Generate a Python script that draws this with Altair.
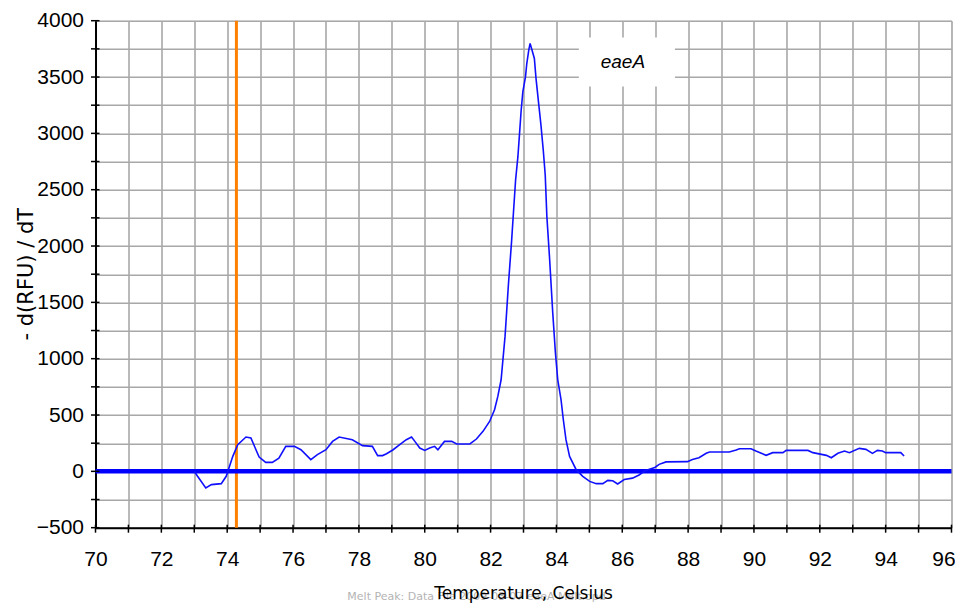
import altair as alt
import pandas as pd

# ---- melt-peak curve (temperature in Celsius, -d(RFU)/dT) ----
temp = [73.0, 73.1, 73.35, 73.52, 73.82, 73.97, 74.17, 74.32, 74.57, 74.72,
        74.97, 75.17, 75.37, 75.57, 75.78, 76.04, 76.24, 76.54, 76.74, 77.0,
        77.2, 77.4, 77.8, 78.11, 78.41, 78.57, 78.72, 78.84, 79.04, 79.24,
        79.44, 79.6, 79.7, 79.85, 80.0, 80.15, 80.3, 80.4, 80.6, 80.82,
        80.97, 81.37, 81.57, 81.77, 81.97, 82.12, 82.22, 82.32, 82.44, 82.54,
        82.64, 82.7, 82.76, 82.83, 82.88, 82.93, 82.98, 83.06, 83.1, 83.16,
        83.2, 83.26, 83.33, 83.38, 83.46, 83.53, 83.6, 83.66, 83.71, 83.79,
        83.89, 83.97, 84.04, 84.14, 84.21, 84.29, 84.4, 84.6, 84.8, 85.01,
        85.21, 85.41, 85.56, 85.71, 85.86, 86.06, 86.31, 86.51, 86.69, 86.99,
        87.12, 87.33, 87.98, 88.13, 88.33, 88.55, 88.65, 89.25, 89.46, 89.56,
        89.91, 90.06, 90.37, 90.57, 90.88, 90.98, 91.64, 91.79, 92.2, 92.35,
        92.55, 92.75, 92.9, 93.2, 93.4, 93.6, 93.75, 93.9, 94.0, 94.46, 94.56]
rfu = [0, -44, -147, -118, -109, -44, 133, 237, 305, 296,
       127, 80, 80, 118, 222, 222, 192, 104, 148, 192,
       266, 305, 281, 228, 222, 140, 140, 156, 192, 237,
       281, 305, 266, 207, 186, 207, 222, 192, 266, 266,
       243, 243, 287, 355, 443, 547, 665, 813, 1200, 1650,
       2050, 2320, 2586, 2793, 3000, 3207, 3369, 3502, 3620, 3738,
       3798, 3738, 3665, 3488, 3266, 3074, 2852, 2630, 2261, 1900,
       1400, 1050, 813, 636, 458, 281, 133, 15, -44, -89,
       -109, -109, -80, -84, -112, -72, -60, -32, 5, 35,
       62, 84, 86, 106, 121, 160, 172, 172, 189, 201,
       201, 180, 142, 166, 166, 186, 186, 166, 142, 121,
       160, 180, 166, 204, 195, 160, 186, 180, 166, 166, 136]

x_ticks = [70, 71, 72, 73, 74, 75, 76, 77, 78, 79, 80, 81, 82, 83, 84, 85, 86,
           87, 88, 89, 90, 91, 92, 93, 94, 95, 96]
y_ticks = [-500, -250, 0, 250, 500, 750, 1000, 1250, 1500, 1750, 2000, 2250,
           2500, 2750, 3000, 3250, 3500, 3750, 4000]

threshold_temp = [74.28]
baseline_value = [0]

legend_label = ["eaeA"]
legend_box_x = [84.68]
legend_box_x2 = [87.6]
legend_box_y = [3415]
legend_box_y2 = [3850]
legend_text_x = [86.02]
legend_text_y = [3637]

x_title = "Temperature, Celsius"
y_title = "- d(RFU) / dT"
footer_text = "Melt Peak: Data File 2009-03-07 eaeA Melt.opd"

# ---- styling ----
W, H = 856, 507
LABEL_FONT = "Liberation Sans, sans-serif"
TITLE_FONT = "DejaVu Sans"
GRID = "#A8A8A8"

curve_df = pd.DataFrame({"temp": temp, "rfu": rfu})
xt_df = pd.DataFrame({"v": x_ticks})
yt_df = pd.DataFrame({"v": y_ticks})
thr_df = pd.DataFrame({"t": threshold_temp})
base_df = pd.DataFrame({"b": baseline_value})
leg_df = pd.DataFrame({"x": legend_box_x, "x2": legend_box_x2,
                       "y": legend_box_y, "y2": legend_box_y2,
                       "tx": legend_text_x, "ty": legend_text_y,
                       "label": legend_label})

xscale = alt.Scale(domain=[70, 96], nice=False, zero=False)
yscale = alt.Scale(domain=[-500, 4000], nice=False)

x_axis = alt.Axis(values=x_ticks, format="d", title=None, ticks=False,
                  labelExpr="datum.value % 2 == 0 ? datum.label : ''",
                  labelFont=LABEL_FONT, labelFontSize=21, labelColor="black",
                  labelPadding=21, labelFlush=False, labelOverlap=False,
                  labelOffset={"condition": {"test": "datum.value == 96",
                                             "value": -8}, "value": 0},
                  domainColor="black", domainWidth=2,
                  grid=True, gridColor=GRID, gridWidth=1.6, gridOpacity=1)
y_axis = alt.Axis(values=y_ticks, format="d", title=None, ticks=False,
                  labelExpr="datum.value % 500 == 0 ? datum.label : ''",
                  labelFont=LABEL_FONT, labelFontSize=21, labelColor="black",
                  labelPadding=12, labelOverlap=False, labelFlush=False,
                  domainColor="black", domainWidth=2,
                  grid=True, gridColor=GRID, gridWidth=1.6, gridOpacity=1)

legend_box = alt.Chart(leg_df).mark_rect(color="white", opacity=1).encode(
    x=alt.X("x:Q", scale=xscale, axis=x_axis),
    x2="x2:Q",
    y=alt.Y("y:Q", scale=yscale, axis=y_axis),
    y2="y2:Q",
)
legend_txt = alt.Chart(leg_df).mark_text(
    font="Liberation Sans", fontStyle="italic", fontSize=19, color="black",
    align="center", baseline="middle").encode(
    x=alt.X("tx:Q", scale=xscale, axis=x_axis),
    y=alt.Y("ty:Q", scale=yscale, axis=y_axis),
    text="label:N",
)

thr = alt.Chart(thr_df).mark_rule(color="#FF8000", strokeWidth=3).encode(
    x=alt.X("t:Q", scale=xscale, axis=x_axis))

base = alt.Chart(base_df).mark_rule(color="#0000FF", strokeWidth=4.5).encode(
    y=alt.Y("b:Q", scale=yscale, axis=y_axis))

curve = alt.Chart(curve_df).mark_line(color="#1010FF", strokeWidth=1.6).encode(
    x=alt.X("temp:Q", scale=xscale, axis=x_axis),
    y=alt.Y("rfu:Q", scale=yscale, axis=y_axis),
)

ytick_marks = alt.Chart(yt_df).mark_rule(color="black", strokeWidth=1.5).encode(
    y=alt.Y("v:Q", scale=yscale, axis=y_axis),
    x=alt.value(-4.5), x2=alt.value(4))
xtick_marks = alt.Chart(xt_df).mark_rule(color="black", strokeWidth=1.5).encode(
    x=alt.X("v:Q", scale=xscale, axis=x_axis),
    y=alt.value(H - 3), y2=alt.value(H + 5))

footer = alt.Chart(pd.DataFrame({"s": [footer_text]})).mark_text(
    font="DejaVu Sans", fontSize=11, color="#B4B4B4", align="center",
    baseline="alphabetic").encode(
    x=alt.value(381), y=alt.value(579), text="s:N")

xtitle = alt.Chart(pd.DataFrame({"s": [x_title]})).mark_text(
    font=TITLE_FONT, fontSize=17, color="black", align="center",
    baseline="alphabetic").encode(
    x=alt.value(W / 2), y=alt.value(578), text="s:N")

ytitle = alt.Chart(pd.DataFrame({"s": [y_title]})).mark_text(
    font=TITLE_FONT, fontSize=21, color="black", align="center",
    baseline="middle", angle=270).encode(
    x=alt.value(-69), y=alt.value(H / 2), text="s:N")

chart = alt.layer(
    legend_box, thr, base, curve, ytick_marks, xtick_marks, legend_txt,
    footer, xtitle, ytitle
).properties(
    width=W, height=H,
    autosize=alt.AutoSizeParams(type="none"),
    padding={"left": 87.5, "top": 12.7, "right": 3.5, "bottom": 75},
).configure_view(stroke=None).configure(background="white")

chart.save("out.html", embed_options={"renderer": "svg", "actions": False})
